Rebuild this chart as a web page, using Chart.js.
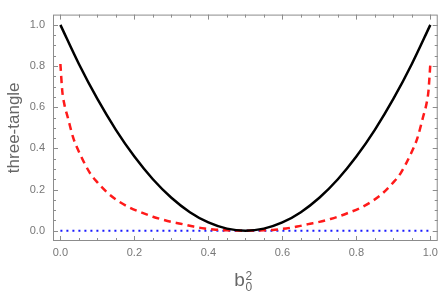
<!DOCTYPE html>
<html>
<head>
<meta charset="utf-8">
<script src="https://cdn.jsdelivr.net/npm/chart.js@4"></script>
<style>
  body { margin: 0; background: #fff; }
  #wrap { width: 443px; height: 294px; position: relative; }
</style>
</head>
<body>
<div id="wrap"><canvas id="plot"></canvas></div>
<script>
// black solid curve
const blackX = [0, 0.05, 0.1, 0.15, 0.2, 0.25, 0.3, 0.35, 0.4, 0.45, 0.5, 0.55, 0.6, 0.65, 0.7, 0.75, 0.8, 0.85, 0.9, 0.95, 1];
const blackY = [1, 0.81, 0.64, 0.49, 0.36, 0.25, 0.16, 0.09, 0.04, 0.01, 0, 0.01, 0.04, 0.09, 0.16, 0.25, 0.36, 0.49, 0.64, 0.81, 1];

// red dashed curve
const redX = [0, 0.005, 0.01, 0.02, 0.035, 0.055, 0.08, 0.1, 0.13, 0.16, 0.19, 0.22, 0.25, 0.27, 0.3, 0.33, 0.36, 0.39, 0.42, 0.45, 0.5,
              0.55, 0.58, 0.61, 0.64, 0.67, 0.7, 0.73, 0.75, 0.78, 0.81, 0.84, 0.87, 0.9, 0.92, 0.945, 0.965, 0.98, 0.99, 0.995, 1];
const redY = [0.81, 0.68, 0.62, 0.55, 0.45, 0.365, 0.28, 0.235, 0.18, 0.14, 0.11, 0.088, 0.068, 0.057, 0.043, 0.032, 0.02, 0.011, 0.005, 0.002, 0,
              0.002, 0.005, 0.011, 0.02, 0.032, 0.043, 0.057, 0.068, 0.088, 0.11, 0.14, 0.18, 0.235, 0.28, 0.365, 0.45, 0.55, 0.62, 0.68, 0.81];

// blue dotted line
const blueX = [0, 1];
const blueY = [0, 0];

const xTicks = [0, 0.2, 0.4, 0.6, 0.8, 1.0];
const yTicks = [0, 0.2, 0.4, 0.6, 0.8, 1.0];
const minorStep = 0.05;

const frameColor = '#8c8c8c';
const labelColor = '#777';
const titleColor = '#666';

function toPoints(xs, ys) {
    return xs.map((x, i) => ({x: x, y: ys[i]}));
}

// frame on all four sides with inward ticks, plus the x label with sub/superscript
const framePlugin = {
    id: 'frame',
    afterDraw(chart) {
        const ctx = chart.ctx;
        const a = chart.chartArea;
        const xs = chart.scales.x, ys = chart.scales.y;
        ctx.save();
        ctx.strokeStyle = frameColor;
        ctx.lineWidth = 1;
        ctx.strokeRect(a.left + 0.5, a.top + 0.5, a.right - a.left - 1, a.bottom - a.top - 1);

        ctx.beginPath();
        for (let v = 0; v <= 1.0001; v += minorStep) {
            let major = Math.abs(v * 5 - Math.round(v * 5)) < 1e-6;
            let len = major ? 5 : 3;
            let px = Math.round(xs.getPixelForValue(v)) + 0.5;
            ctx.moveTo(px, a.bottom); ctx.lineTo(px, a.bottom - len);
            ctx.moveTo(px, a.top); ctx.lineTo(px, a.top + len);
            let py = Math.round(ys.getPixelForValue(v)) + 0.5;
            ctx.moveTo(a.left, py); ctx.lineTo(a.left + len, py);
            ctx.moveTo(a.right, py); ctx.lineTo(a.right - len, py);
        }
        ctx.stroke();

        // x axis title: b with subscript 0 and superscript 2
        let cx = (a.left + a.right) / 2 - 11;
        ctx.fillStyle = titleColor;
        ctx.textBaseline = 'alphabetic';
        ctx.textAlign = 'left';
        ctx.font = '19px "Liberation Sans", Arial, sans-serif';
        ctx.fillText('b', cx, 286);
        let bw = ctx.measureText('b').width;
        ctx.font = '12px "Liberation Sans", Arial, sans-serif';
        ctx.fillText('2', cx + bw + 0.5, 280);
        ctx.fillText('0', cx + bw + 0.5, 291);
        ctx.restore();
    }
};

let plotCtx = document.getElementById('plot').getContext('2d');
let plot = new Chart(plotCtx, {
    type: 'scatter',
    data: {
        datasets: [{
            label: 'black',
            data: toPoints(blackX, blackY),
            showLine: true,
            borderColor: '#000',
            borderWidth: 2.5,
            pointRadius: 0,
            cubicInterpolationMode: 'monotone'
        }, {
            label: 'red',
            data: toPoints(redX, redY),
            showLine: true,
            borderColor: '#ff1a1a',
            borderWidth: 2.5,
            borderDash: [7, 5],
            pointRadius: 0,
            cubicInterpolationMode: 'monotone'
        }, {
            label: 'blue',
            data: toPoints(blueX, blueY),
            showLine: true,
            borderColor: '#1a1aff',
            borderWidth: 2,
            borderDash: [2, 4],
            pointRadius: 0
        }]
    },
    options: {
        responsive: true,
        maintainAspectRatio: false,
        animation: false,
        layout: { padding: { top: 1, right: 1, left: 0, bottom: 0 } },
        plugins: { legend: { display: false }, tooltip: { enabled: false } },
        scales: {
            x: {
                type: 'linear',
                min: -0.02,
                max: 1.02,
                grid: { display: false, drawTicks: false },
                border: { display: false },
                afterBuildTicks: (scale) => { scale.ticks = xTicks.map(v => ({value: v})); },
                afterFit: (scale) => { scale.height = 53; },
                ticks: {
                    padding: 5,
                    maxRotation: 0,
                    autoSkip: false,
                    color: labelColor,
                    font: { family: '"Liberation Sans", Arial, sans-serif', size: 11 },
                    callback: (v) => v.toFixed(1)
                }
            },
            y: {
                type: 'linear',
                min: -0.05,
                max: 1.05,
                grid: { display: false, drawTicks: false },
                border: { display: false },
                afterBuildTicks: (scale) => { scale.ticks = yTicks.map(v => ({value: v})); },
                afterFit: (scale) => { scale.width = 53; },
                title: {
                    display: true,
                    text: 'three-tangle',
                    color: titleColor,
                    padding: { top: 4, bottom: 0 },
                    font: { family: '"Liberation Sans", Arial, sans-serif', size: 17 }
                },
                ticks: {
                    padding: 8,
                    autoSkip: false,
                    color: labelColor,
                    font: { family: '"Liberation Sans", Arial, sans-serif', size: 11 },
                    callback: (v) => v.toFixed(1)
                }
            }
        }
    },
    plugins: [framePlugin]
});
</script>
</body>
</html>
